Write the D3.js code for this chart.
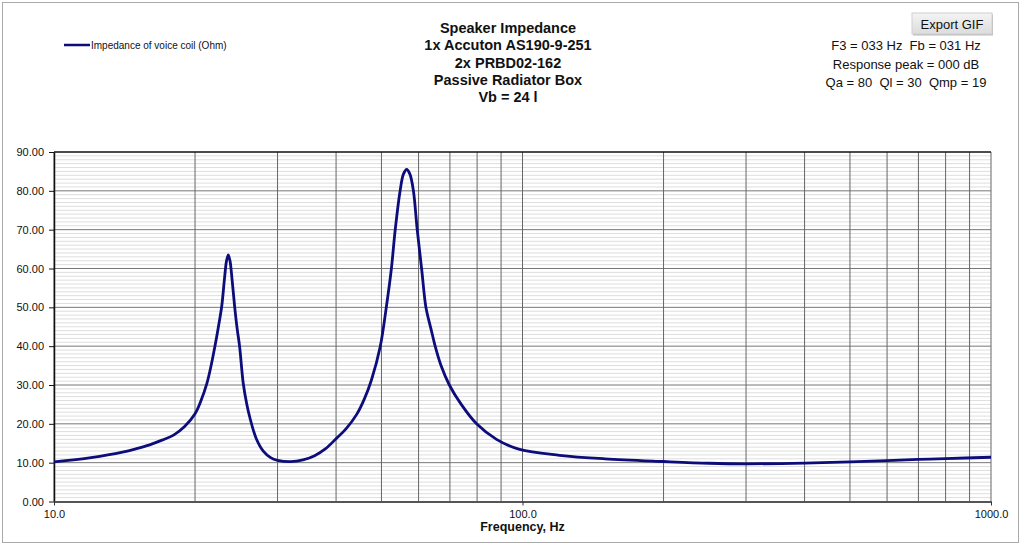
<!DOCTYPE html>
<html>
<head>
<meta charset="utf-8">
<script src="https://cdn.jsdelivr.net/npm/d3@7"></script>
<style>
html,body{margin:0;padding:0;background:#fff;}
svg{display:block;font-family:"Liberation Sans",Arial,sans-serif;}
text{white-space:pre;}
</style>
</head>
<body>
<svg id="chart" width="1024" height="545"></svg>
<script>
// ---- data ----
const frequencies = [10,12,14,15,16,17,18,19,20,20.6,21.2,21.6,22.05,22.4,22.8,23.1,23.35,23.55,23.75,24.0,24.3,24.6,24.9,25.35,25.8,26.2,27,28,29,30,32,34,36,38,40.1,42,44.3,46,47.6,49.7,51.2,52.5,53.5,54.8,55.7,56.6,57.5,58.5,59.6,60.9,62.2,63.3,64.2,65.1,67,69.8,74,79.8,88,98.6,120,150,200,250,300,400,500,600,700,800,1000];
const impedance   = [10.2,11.3,12.7,13.6,14.6,15.8,17.1,19.3,22.6,26,30.4,34.5,39.9,44.5,50.2,57,62,63.5,62,57,50.2,44.5,39.9,30.4,25,21.5,16.3,12.9,11.3,10.6,10.25,10.7,11.8,13.6,16.3,18.7,22.5,26.5,31.3,39.9,50,60,70,80,84.3,85.5,84.3,80,70,60,50,46,43,40,35,30,25,20,16,13.4,11.9,11,10.3,9.85,9.7,9.9,10.2,10.5,10.85,11.05,11.4];
const yTicks = [0,10,20,30,40,50,60,70,80,90];
const xTickLabels = [10,100,1000];
const xGrid = [10,20,30,40,50,60,70,80,90,100,200,300,400,500,600,700,800,900,1000];
const titleLines = ["Speaker Impedance","1x Accuton AS190-9-251","2x PRBD02-162","Passive Radiator Box","Vb = 24 l"];
const infoLines = ["F3 = 033 Hz  Fb = 031 Hz","Response peak = 000 dB","Qa = 80  Ql = 30  Qmp = 19"];
const seriesName = "Impedance of voice coil (Ohm)";

const svg = d3.select("#chart");
const L = 54, R = 991, T = 152, B = 501.5;
const x = d3.scaleLog().domain([10,1000]).range([L,R]);
const y = d3.scaleLinear().domain([0,90]).range([B,T]);

// outer border
svg.append("rect").attr("x",2.5).attr("y",2.5).attr("width",1016).attr("height",540)
  .attr("fill","#fff").attr("stroke","#aaa").attr("stroke-width",1);

// minor horizontal grid
const minor = d3.range(1,90).filter(v=>v%10!==0);
svg.append("g").selectAll("line").data(minor).join("line")
  .attr("x1",L).attr("x2",R).attr("y1",d=>y(d)).attr("y2",d=>y(d))
  .attr("stroke","#dedede").attr("stroke-width",1);

// major horizontal grid
svg.append("g").selectAll("line").data(yTicks.filter(v=>v>0&&v<90)).join("line")
  .attr("x1",L).attr("x2",R).attr("y1",d=>y(d)).attr("y2",d=>y(d))
  .attr("stroke","#777").attr("stroke-width",1);

// vertical grid
svg.append("g").selectAll("line").data(xGrid).join("line")
  .attr("x1",d=>x(d)).attr("x2",d=>x(d)).attr("y1",T).attr("y2",B)
  .attr("stroke","#666").attr("stroke-width",1);

// top line
svg.append("line").attr("x1",L).attr("x2",R).attr("y1",T).attr("y2",T).attr("stroke","#111").attr("stroke-width",1.5);

// y axis
const yAxis = svg.append("g").attr("transform",`translate(${L},0)`)
  .call(d3.axisLeft(y).tickValues(yTicks).tickFormat(d3.format(".2f")).tickSize(5).tickSizeOuter(0));
yAxis.select(".domain").attr("stroke","#111").attr("stroke-width",1.5);
yAxis.selectAll(".tick line").attr("stroke","#111");
yAxis.selectAll("text").attr("font-size","11px").attr("fill","#111").attr("font-family","Liberation Sans, Arial, sans-serif").attr("dx","-2");

// x axis
const xAxis = svg.append("g").attr("transform",`translate(0,${B})`)
  .call(d3.axisBottom(x).tickValues(xTickLabels).tickFormat(d3.format(".1f")).tickSize(4).tickSizeOuter(0));
xAxis.select(".domain").attr("stroke","#555").attr("stroke-width",2);
xAxis.selectAll(".tick line").attr("stroke","#333");
xAxis.selectAll("text").attr("font-size","11px").attr("fill","#111").attr("font-family","Liberation Sans, Arial, sans-serif").attr("dy","0.9em");

svg.append("text").attr("x",(L+R)/2).attr("y",531).attr("text-anchor","middle")
  .attr("font-size","12.5px").attr("font-weight","bold").attr("fill","#111").text("Frequency, Hz");

// curve
const pts = frequencies.map((f,i)=>[f,impedance[i]]);
svg.append("path").datum(pts)
  .attr("fill","none").attr("stroke","#0c0c7a").attr("stroke-width",2.8)
  .attr("stroke-linejoin","round")
  .attr("d",d3.line().x(d=>x(d[0])).y(d=>y(d[1])).curve(d3.curveCatmullRom.alpha(0.5)));

// title
svg.append("g").selectAll("text").data(titleLines).join("text")
  .attr("x",508).attr("y",(d,i)=>33+i*17.3).attr("text-anchor","middle")
  .attr("font-size","14.5px").attr("font-weight","bold").attr("fill","#111").text(d=>d);

// legend
svg.append("line").attr("x1",64).attr("x2",90).attr("y1",45).attr("y2",45).attr("stroke","#0c0c7a").attr("stroke-width",2.5);
svg.append("text").attr("x",91).attr("y",48.5).attr("font-size","10px").attr("fill","#111").text(seriesName);

// export button
const defs = svg.append("defs");
const grad = defs.append("linearGradient").attr("id","btn").attr("x1",0).attr("x2",0).attr("y1",0).attr("y2",1);
grad.append("stop").attr("offset","0%").attr("stop-color","#f4f4f4");
grad.append("stop").attr("offset","100%").attr("stop-color","#dcdcdc");
svg.append("rect").attr("x",913).attr("y",14.5).attr("width",80).attr("height",21).attr("fill","#bbb");
svg.append("rect").attr("x",912).attr("y",13).attr("width",80).attr("height",21).attr("fill","url(#btn)").attr("stroke","#d0d0d0");
svg.append("text").attr("x",952).attr("y",28.5).attr("text-anchor","middle").attr("font-size","13px").attr("fill","#111").text("Export GIF");

// info lines
svg.append("g").selectAll("text").data(infoLines).join("text")
  .attr("x",906).attr("y",(d,i)=>[50,69,87][i]).attr("text-anchor","middle")
  .attr("font-size","13px").attr("fill","#111").text(d=>d);
</script>
</body>
</html>
